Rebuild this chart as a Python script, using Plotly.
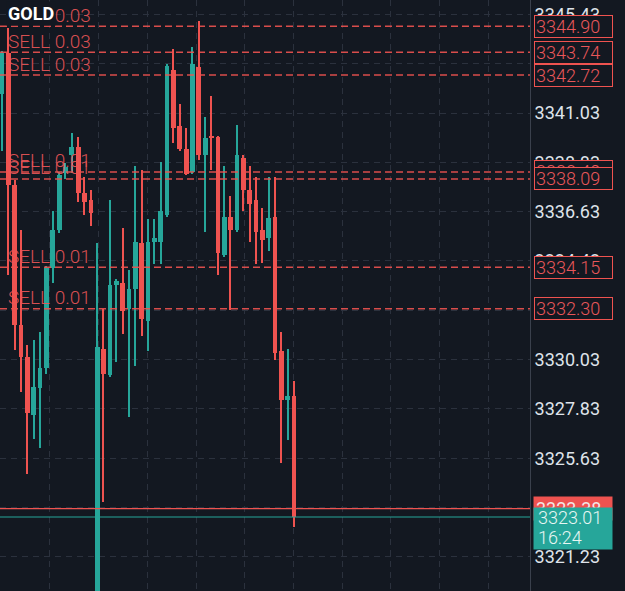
import plotly.graph_objects as go

symbol = "GOLD"

opens = [3341.88, 3343.71, 3337.82, 3331.57, 3330.15, 3327.56, 3328.76, 3329.66, 3334.10, 3335.81,
         3338.35, 3339.16, 3339.52, 3337.46, 3337.15, 3318.50, 3330.50, 3329.34, 3333.36, 3333.45,
         3332.29, 3333.18, 3335.23, 3331.75, 3335.28, 3335.28, 3336.48, 3342.95, 3340.45, 3339.42,
         3338.40, 3343.08, 3339.16, 3339.96, 3339.96, 3334.70, 3336.39, 3335.81, 3339.02, 3337.60,
         3337.15, 3335.81, 3335.45, 3336.39, 3330.41, 3328.23, 3328.41]
highs = [3343.80, 3344.82, 3338.04, 3335.80, 3330.70, 3330.90, 3331.26, 3334.20, 3336.66, 3338.40,
         3338.80, 3340.14, 3339.96, 3338.17, 3337.60, 3335.23, 3332.29, 3337.15, 3333.63, 3335.90,
         3334.03, 3338.67, 3338.49, 3336.30, 3336.30, 3338.84, 3343.20, 3343.88, 3341.43, 3340.36,
         3343.97, 3345.13, 3340.85, 3341.79, 3340.00, 3338.67, 3337.33, 3340.49, 3339.16, 3338.67,
         3338.17, 3336.79, 3338.17, 3338.17, 3331.26, 3330.50, 3329.08]
lows = [3339.33, 3333.80, 3330.46, 3328.60, 3324.93, 3326.50, 3326.09, 3329.39, 3333.45, 3335.70,
        3338.10, 3338.35, 3337.06, 3336.48, 3335.99, 3318.00, 3323.68, 3329.25, 3329.92, 3331.17,
        3327.47, 3329.75, 3331.08, 3330.41, 3334.30, 3334.30, 3336.39, 3339.69, 3339.33, 3338.25,
        3338.31, 3338.94, 3335.72, 3338.49, 3333.81, 3334.61, 3332.24, 3335.72, 3336.66, 3335.28,
        3334.30, 3334.34, 3334.88, 3330.00, 3325.42, 3326.45, 3322.56]
closes = [3343.71, 3337.82, 3331.57, 3330.15, 3327.65, 3328.81, 3329.66, 3334.10, 3335.81, 3338.26,
          3338.62, 3339.52, 3337.46, 3337.06, 3336.57, 3330.59, 3329.39, 3333.36, 3333.54, 3332.20,
          3333.18, 3335.28, 3331.84, 3335.28, 3335.45, 3336.66, 3343.13, 3340.36, 3339.42, 3338.31,
          3343.22, 3339.16, 3339.92, 3339.92, 3334.79, 3336.39, 3335.81, 3339.16, 3337.60, 3336.97,
          3335.72, 3335.37, 3336.34, 3330.32, 3328.23, 3328.41, 3323.01]

order_prices = [3344.90, 3343.74, 3342.72, 3338.40, 3338.09, 3334.15, 3332.30]
order_labels = ["SELL 0.03", "SELL 0.03", "SELL 0.03", "SELL 0.01", "SELL 0.01", "SELL 0.01", "SELL 0.01"]
ask_price = 3323.38
bid_price = 3323.01
countdown = "16:24"
tick_vals = [3321.23, 3323.43, 3325.63, 3327.83, 3330.03, 3332.23, 3334.43,
             3336.63, 3338.83, 3341.03, 3343.23, 3345.43]

BG = "#131821"
GREEN = "#26a69a"
RED = "#ef5350"
GRID = "#2b313d"
TXT = "#dfe3ea"
FONT = "Roboto"
W, H = 625, 591

n = len(opens)
xs = list(range(n))
up = [c >= o for o, c in zip(opens, closes)]
colors = [GREEN if u else RED for u in up]
body_base = [min(o, c) for o, c in zip(opens, closes)]
body_h = [max(abs(c - o), 0.06) for o, c in zip(opens, closes)]
wick_h = [h - l for h, l in zip(highs, lows)]

fig = go.Figure()
fig.add_trace(go.Bar(x=xs, y=wick_h, base=lows, width=0.2,
                     marker=dict(color=colors, line=dict(width=0)), hoverinfo="skip"))
fig.add_trace(go.Bar(x=xs, y=body_h, base=body_base, width=0.75,
                     marker=dict(color=colors, line=dict(width=0)), hoverinfo="skip"))

shapes = []
for p in order_prices:
    shapes.append(dict(type="line", xref="x domain", x0=0, x1=1, yref="y", y0=p, y1=p,
                       line=dict(color="rgba(239,83,80,0.9)", width=1.5, dash="7px,4px"),
                       layer="above"))
shapes.append(dict(type="line", xref="x domain", x0=0, x1=1, yref="y", y0=ask_price, y1=ask_price,
                   line=dict(color=RED, width=1.3), layer="above"))
shapes.append(dict(type="line", xref="x domain", x0=0, x1=1, yref="y", y0=bid_price, y1=bid_price,
                   line=dict(color=GREEN, width=1), layer="above"))

ann = []
for p, lab in zip(order_prices, order_labels):
    ann.append(dict(xref="paper", yref="y", x=6 / W, y=p, xanchor="left", yanchor="middle",
                    yshift=11, text=lab, showarrow=False,
                    font=dict(family=FONT, size=19, color="rgba(236,86,88,0.92)", weight=300)))
ann.append(dict(xref="paper", yref="paper", x=6 / W, y=1 - 13.5 / H, xanchor="left", yanchor="middle",
                text="<b>" + symbol + "</b>", showarrow=False, bgcolor=BG, borderpad=1,
                font=dict(family=FONT, size=18, color="#ffffff")))
for p in order_prices:
    ann.append(dict(xref="paper", yref="y", x=534 / W, y=p, xanchor="left", yanchor="middle",
                    text=f"{p:.2f}", showarrow=False, bgcolor=BG, bordercolor=RED,
                    borderwidth=1, borderpad=1, width=75, height=19, align="left",
                    font=dict(family=FONT, size=18, color="#e8575a", weight=300)))
ann.append(dict(xref="paper", yref="y", x=533 / W, y=ask_price, xanchor="left", yanchor="middle",
                text=f"{ask_price:.2f}", showarrow=False, bgcolor=RED, borderpad=2,
                width=74, height=19, align="left",
                font=dict(family=FONT, size=18, color="#f4e6e6")))
ann.append(dict(xref="paper", yref="paper", x=533 / W, y=1 - 507 / H, xanchor="left", yanchor="top",
                text=" ", showarrow=False, bgcolor=GREEN, borderpad=0, width=78, height=41))
ann.append(dict(xref="paper", yref="y", x=536 / W, y=bid_price, xanchor="left", yanchor="middle",
                text=f"{bid_price:.2f}", showarrow=False,
                font=dict(family=FONT, size=18, color="#e8f6f3", weight=300)))
ann.append(dict(xref="paper", yref="y", x=536 / W, y=bid_price, xanchor="left", yanchor="middle",
                yshift=-20, text=countdown, showarrow=False,
                font=dict(family=FONT, size=18, color="#e8f6f3", weight=300)))

fig.update_layout(
    template="none",
    width=W, height=H,
    margin=dict(l=0, r=0, t=0, b=0),
    paper_bgcolor=BG, plot_bgcolor=BG,
    barmode="overlay", bargap=0,
    showlegend=False,
    shapes=shapes,
    annotations=ann,
    xaxis=dict(domain=[0, 530 / W], range=[-0.315, 83.15], showticklabels=False,
               tickmode="linear", tick0=-0.157, dtick=7.677,
               showgrid=True, gridcolor=GRID, griddash="6px,5px", gridwidth=1,
               zeroline=False, showline=False, ticks="", automargin=False, fixedrange=True),
    yaxis=dict(side="right", range=[3319.71, 3346.07], tickmode="array",
               tickvals=tick_vals, ticktext=[f"{v:.2f}" for v in tick_vals],
               tickfont=dict(family=FONT, size=18, color=TXT),
               showgrid=True, gridcolor=GRID, griddash="6px,5px", gridwidth=1,
               zeroline=False, showline=True, linecolor="#3a404c", linewidth=1,
               ticks="", ticklabelstandoff=0, automargin=False, fixedrange=True),
)

fig.write_html("out.html")
